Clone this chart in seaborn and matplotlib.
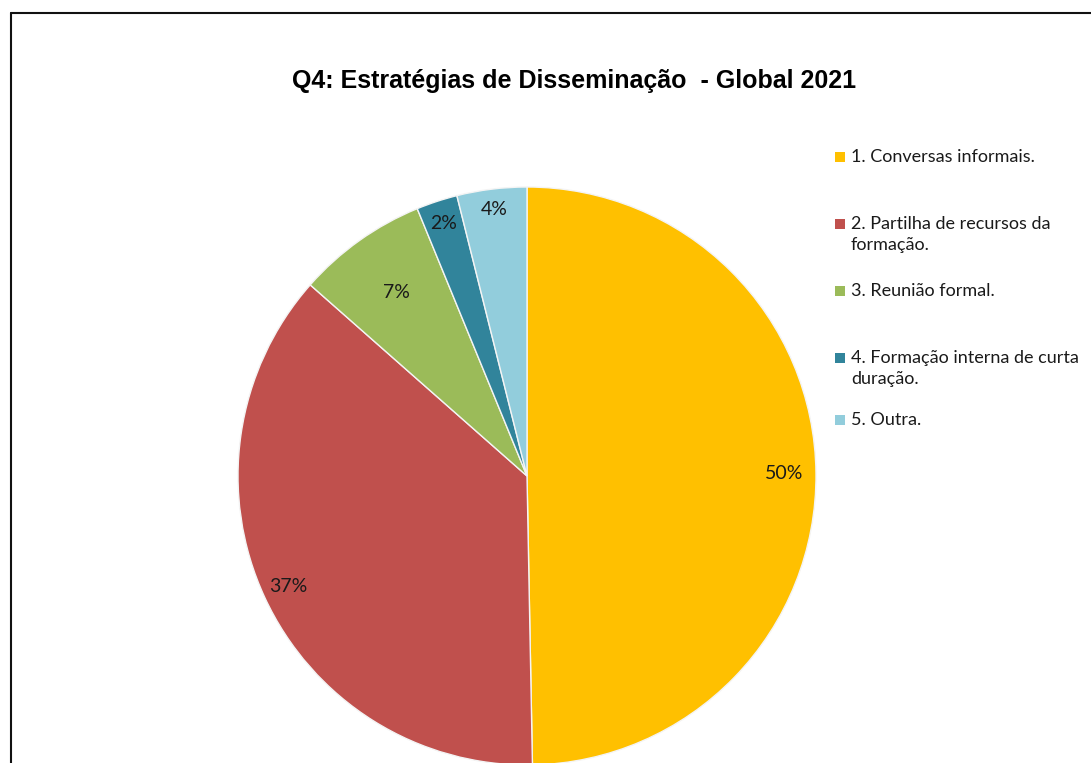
import numpy as np
import matplotlib
matplotlib.use("Agg")
import matplotlib.pyplot as plt
from matplotlib.lines import Line2D
from matplotlib.patches import Rectangle
import seaborn as sns

# ---- data ----
categories = [
    "1. Conversas informais.",
    "2. Partilha de recursos da\nformação.",
    "3. Reunião formal.",
    "4. Formação interna de curta\nduração.",
    "5. Outra.",
]
values = [49.7, 36.8, 7.3, 2.3, 3.9]
title = "Q4: Estratégias de Disseminação  - Global 2021"

colors = sns.color_palette(["#FFC000", "#C0504D", "#9BBB59", "#31849B", "#92CDDC"])

sns.set_theme(style="white")
plt.rcParams['font.family'] = ['Lato', 'DejaVu Sans']

W, H = 1091, 763
fig = plt.figure(figsize=(W / 100, H / 100), dpi=100)
fig.patch.set_facecolor("white")

# pie axes: centre (527, 476) px, radius 289 px
cx, cy, r = 527, 476, 289
ax = fig.add_axes([(cx - r) / W, (H - cy - r) / H, 2 * r / W, 2 * r / H])
wedges, texts, autotexts = ax.pie(
    values, colors=colors, startangle=90, counterclock=False,
    autopct="%.0f%%", pctdistance=0.88,
    wedgeprops=dict(edgecolor="#f4f4f4", linewidth=1.0),
    textprops=dict(fontsize=14, color="#1a1a1a"),
)
ax.set_xlim(-1, 1)
ax.set_ylim(-1, 1)
ax.set_aspect("auto")
ax.axis("off")

# per-label radial distance (Excel "best fit" placement)
label_r = [0.89, 0.91, 0.78, 0.92, 0.93]
for w, t, lr in zip(wedges, autotexts, label_r):
    mid = np.deg2rad((w.theta1 + w.theta2) / 2)
    t.set_position((lr * np.cos(mid), lr * np.sin(mid)))

# title
fig.text(574 / W, 1 - 81 / H, title, ha="center", va="center",
         fontsize=18, fontweight="bold", color="black",
         family=["Liberation Sans", "DejaVu Sans"])

# legend
leg_y = [157, 224, 291, 358, 420]
sq = 10
for lab, col, y in zip(categories, colors, leg_y):
    fig.patches.append(Rectangle(((840 - sq / 2) / W, 1 - (y + sq / 2) / H), sq / W, sq / H,
                                 transform=fig.transFigure, facecolor=col, edgecolor="none"))
    fig.text(851 / W, 1 - (y - 8) / H, lab, ha="left", va="top", fontsize=13,
             color="#1a1a1a", linespacing=1.38)

# border (top and left)
fig.add_artist(Line2D([11 / W, 1], [1 - 12.5 / H, 1 - 12.5 / H], transform=fig.transFigure,
                      color="#111111", linewidth=1.5))
fig.add_artist(Line2D([11 / W, 11 / W], [0, 1 - 12.5 / H], transform=fig.transFigure,
                      color="#111111", linewidth=1.5))

fig.savefig("out.png", dpi=100)
